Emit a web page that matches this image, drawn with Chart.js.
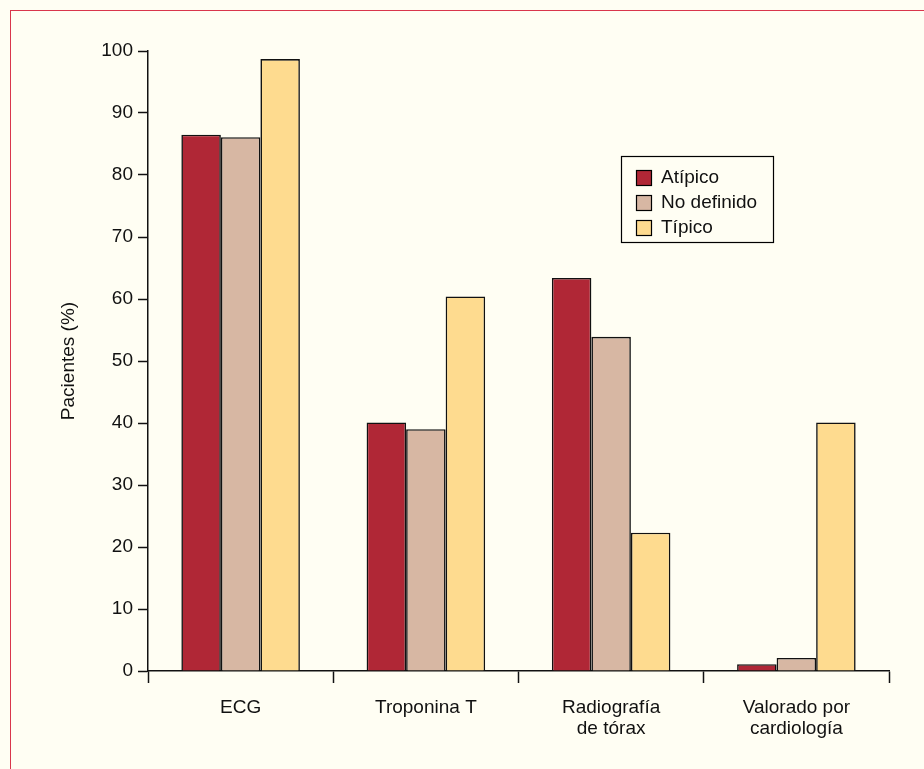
<!DOCTYPE html>
<html>
<head>
<meta charset="utf-8">
<style>
  html, body { margin: 0; padding: 0; background: #fffef3; }
  #frame { position: absolute; left: 10px; top: 10px; width: 930px; height: 780px;
           border-left: 1px solid #d9364c; border-top: 1px solid #d9364c; }
  #wrap { position: absolute; left: 0; top: 0; width: 924px; height: 769px; }
</style>
</head>
<body>
<div id="frame"></div>
<div id="wrap"><canvas id="chart" width="924" height="769"></canvas></div>

<script src="https://cdn.jsdelivr.net/npm/chart.js"></script>
<script>
  // data
  const categories = ['ECG', 'Troponina T', ['Radiografía', 'de tórax'], ['Valorado por', 'cardiología']];
  const atipico    = [86.5, 40.1, 63.4, 1.1];
  const noDefinido = [86.1, 39.0, 53.9, 2.1];
  const tipico     = [98.7, 60.4, 22.3, 40.1];
  const yTicks     = [0, 10, 20, 30, 40, 50, 60, 70, 80, 90, 100];

  const textFont = { family: '"Liberation Sans", Arial, sans-serif', size: 19, lineHeight: 1.1 };
  const numFont  = { family: '"Liberation Sans", Arial, sans-serif', size: 19 };

  // legend box drawn inside the plot, like the original
  const boxLegend = {
    id: 'boxLegend',
    afterDraw(chart) {
      const ctx = chart.ctx;
      const x = 621.5, y = 156.5, w = 152, h = 86;
      ctx.save();
      ctx.fillStyle = '#fffef3';
      ctx.fillRect(x, y, w, h);
      ctx.strokeStyle = '#000';
      ctx.lineWidth = 1.2;
      ctx.strokeRect(x, y, w, h);
      ctx.font = '19px "Liberation Sans", Arial, sans-serif';
      ctx.textBaseline = 'middle';
      chart.data.datasets.forEach((ds, i) => {
        const cy = 178 + i * 25;
        ctx.fillStyle = ds.backgroundColor;
        ctx.fillRect(636.5, cy - 7.5, 15, 15);
        ctx.strokeRect(636.5, cy - 7.5, 15, 15);
        ctx.fillStyle = '#111';
        ctx.fillText(ds.label, 661, cy);
      });
      ctx.restore();
    }
  };

  const ds = (label, data, color) => ({
    label, data,
    backgroundColor: color,
    borderColor: '#111',
    borderWidth: 1.6,
    categoryPercentage: 0.64,
    barPercentage: 1.0
  });

  new Chart(document.getElementById('chart').getContext('2d'), {
    type: 'bar',
    data: {
      labels: categories,
      datasets: [
        ds('Atípico', atipico, '#b02736'),
        ds('No definido', noDefinido, '#d7b7a3'),
        ds('Típico', tipico, '#fedb8f')
      ]
    },
    options: {
      responsive: false,
      animation: false,
      layout: { padding: { top: 51, right: 35, left: 0, bottom: 0 } },
      plugins: { legend: { display: false }, tooltip: { enabled: false } },
      scales: {
        x: {
          grid: { drawOnChartArea: false, drawTicks: true, tickLength: 12, tickColor: '#111', tickWidth: 1.5 },
          border: { display: true, color: '#111', width: 1.5 },
          ticks: { color: '#111', font: textFont, padding: 14, maxRotation: 0, autoSkip: false },
          afterFit(scale) { scale.height = 98; }
        },
        y: {
          min: 0, max: 100,
          afterBuildTicks(scale) { scale.ticks = yTicks.map(v => ({ value: v })); },
          grid: { drawOnChartArea: false, drawTicks: true, tickLength: 10, tickColor: '#111', tickWidth: 1.5 },
          border: { display: true, color: '#111', width: 1.5 },
          ticks: { color: '#111', font: numFont, padding: 5 },
          title: {
            display: true, text: 'Pacientes (%)', color: '#111',
            font: { family: '"Liberation Sans", Arial, sans-serif', size: 19 },
            padding: { top: 57, bottom: 0 }
          },
          afterFit(scale) { scale.width = 148; }
        }
      }
    },
    plugins: [boxLegend]
  });
</script>
</body>
</html>
